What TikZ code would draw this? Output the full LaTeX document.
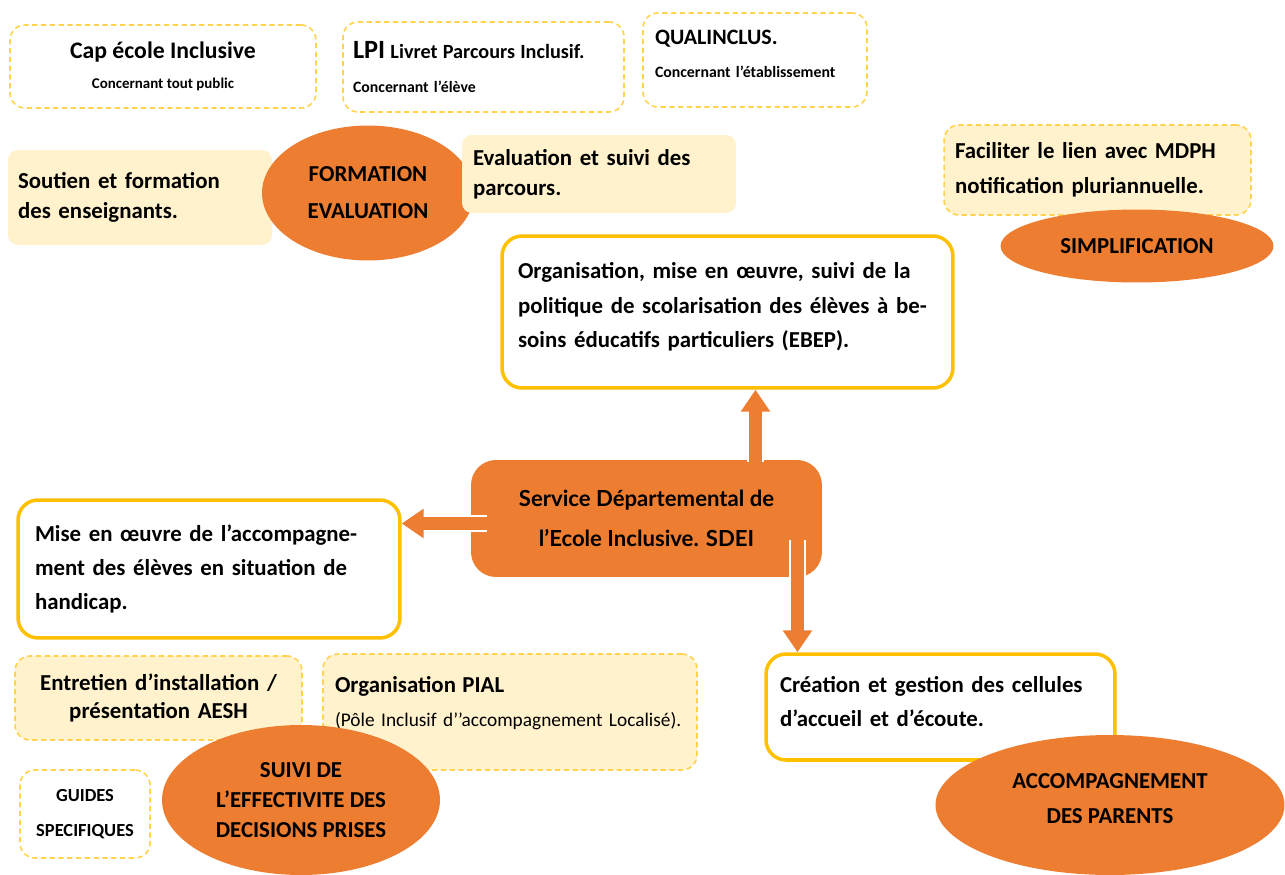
\documentclass[tikz,border=0pt]{standalone}
\usepackage{fontspec}
\setmainfont{Carlito}
\newfontfamily\gill{Lato}
\usetikzlibrary{shapes.geometric,arrows.meta,calc}
\definecolor{orangeF}{HTML}{ED7D31}
\definecolor{jaune}{HTML}{FFC000}
\definecolor{pale}{HTML}{FFF2CC}
\definecolor{tiret}{HTML}{FFD34D}
\begin{document}
\begin{tikzpicture}[x=0.02cm,y=-0.02cm,
boite/.style={draw=jaune, line width=2pt, fill=white, rounded corners=0.4cm, inner ysep=4pt, align=left, font=\bfseries\fontsize{13}{19.5}\selectfont},
pointille/.style={draw=tiret, line width=0.9pt, dash pattern=on 3pt off 2pt, rounded corners=0.3cm, inner ysep=4pt},
clair/.style={fill=pale, rounded corners=0.2cm, inner ysep=4pt, align=left, font=\bfseries\fontsize{13}{17}\selectfont},
bulle/.style={ellipse, fill=orangeF, align=center, inner sep=0pt, font=\bfseries\fontsize{13}{21}\selectfont},
fleche/.style={line width=7.4pt, draw=orangeF, -{Triangle[length=12.5pt,width=16pt]},
  preaction={draw=white, line width=9.4pt, -{Triangle[length=14pt,width=19pt]}}}]
\useasboundingbox[fill=white] (0,0) rectangle (1285,875);

\node[pointille, minimum width=6.12cm, minimum height=1.66cm, align=center, font=\bfseries\fontsize{8.5}{17}\selectfont] (cap) at (163,66.5)
  {{\fontsize{13.5}{16}\selectfont Cap école Inclusive}\\Concernant tout public};
\node[pointille, text width=5.22cm, inner xsep=0.2cm, minimum height=1.8cm, align=left, font=\bfseries\fontsize{9}{19}\selectfont] (lpi) at (483.5,67)
  {{\fontsize{15}{16}\selectfont LPI} {\fontsize{11.5}{16}\selectfont Livret Parcours Inclusif.}\\Concernant l’élève};
\node[pointille, text width=4cm, inner xsep=0.24cm, minimum height=1.88cm, align=left, font=\bfseries\fontsize{9}{19}\selectfont] (qual) at (755,60)
  {{\fontsize{12.5}{16}\selectfont QUALINCLUS.}\\Concernant l’établissement\\[-12pt]\mbox{}};

\node[clair, text width=4.88cm, inner xsep=0.2cm, minimum height=1.9cm] (soutien) at (140,197.5)
  {Soutien et formation\\des enseignants.};
\node[bulle, minimum width=4.24cm, minimum height=2.7cm] (formation) at (368,193) {FORMATION\\EVALUATION};
\node[clair, text width=5.04cm, inner xsep=0.22cm, minimum height=1.56cm] (parcours) at (599,174)
  {Evaluation et suivi des\\parcours.};
\node[clair, pointille, fill=pale, text width=5.7cm, inner xsep=0.22cm, minimum height=1.8cm, align=left, font=\bfseries\fontsize{13}{20}\selectfont] (mdph) at (1097.5,170)
  {Faciliter le lien avec MDPH\\notification pluriannuelle.};
\node[bulle, minimum width=5.46cm, minimum height=1.46cm] (simpl) at (1137,246) {SIMPLIFICATION};

\node[boite, text width=8.38cm, inner xsep=0.32cm, minimum height=3.04cm] (orga) at (727.5,312)
  {Organisation, mise en œuvre, suivi de la\\politique de scolarisation des élèves à be-\\soins éducatifs particuliers (EBEP).\\[-11.5pt]\mbox{}};
\node[fill=orangeF, rounded corners=0.5cm, minimum width=7.02cm, minimum height=2.34cm, align=center, font=\gill\bfseries\fontsize{12.6}{23}\selectfont] (sdei) at (646.5,518.5)
  {Service Départemental de\\l’Ecole Inclusive. SDEI};
\node[boite, text width=6.96cm, inner xsep=0.34cm, minimum height=2.76cm] (handi) at (209,569)
  {Mise en œuvre de l’accompagne-\\ment des élèves en situation de\\handicap.};
\node[boite, text width=6.42cm, inner xsep=0.28cm, minimum height=2.12cm] (cellule) at (940.5,707)
  {Création et gestion des cellules\\d’accueil et d’écoute.\\[-13.5pt]\mbox{}};

\node[clair, pointille, fill=pale, text width=5.34cm, inner xsep=0.2cm, minimum height=1.68cm, align=center, font=\bfseries\fontsize{13}{16}\selectfont] (aesh) at (158.5,698)
  {Entretien d’installation /\\présentation AESH};
\node[clair, pointille, fill=pale, text width=7cm, inner xsep=0.24cm, minimum height=2.32cm, align=left, font=\fontsize{11}{19}\selectfont] (pial) at (510,712)
  {{\bfseries\fontsize{13}{16}\selectfont Organisation PIAL}\\(Pôle Inclusif d’’accompagnement Localisé).\\[-7pt]\mbox{}};
\node[pointille, minimum width=2.6cm, minimum height=1.76cm, align=center, font=\bfseries\fontsize{10.5}{20}\selectfont] (guides) at (85,814)
  {GUIDES\\SPECIFIQUES};
\node[bulle, minimum width=5.56cm, minimum height=3cm, font=\bfseries\fontsize{13}{17}\selectfont] (suivi) at (301,800)
  {SUIVI DE\\L’EFFECTIVITE DES\\DECISIONS PRISES};
\node[bulle, minimum width=6.98cm, minimum height=2.8cm, font=\bfseries\fontsize{13}{20}\selectfont] (parents) at (1110,805)
  {ACCOMPAGNEMENT\\DES PARENTS\\[-13pt]};

\coordinate (h) at ($(sdei.north)+(109,2)$);
\coordinate (g) at ($(sdei.west)+(16,5)$);
\coordinate (b) at ($(sdei.south)+(151,-37)$);
\draw[fleche] (h) -- (h |- orga.south);
\draw[fleche] (g) -- (g -| handi.east);
\draw[fleche] (b) -- (b |- cellule.north);
\end{tikzpicture}
\end{document}
